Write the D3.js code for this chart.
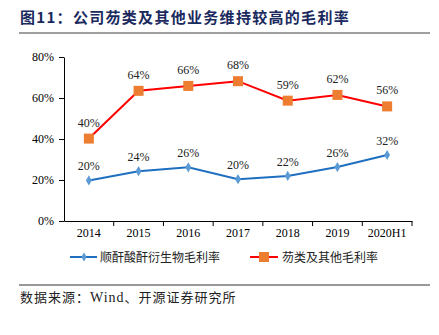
<!DOCTYPE html>
<html><head><meta charset="utf-8">
<script src="https://cdn.jsdelivr.net/npm/d3@7/dist/d3.min.js"></script>
<style>
body{margin:0;background:#fff;}
svg{display:block;}
</style></head>
<body><svg id="c" width="439" height="335"></svg>
<script>
const categories = ["2014","2015","2016","2017","2018","2019","2020H1"];
const seriesBlue = [19.8, 24.3, 26.2, 20.4, 22.0, 26.3, 32.2];
const seriesRed = [40.2, 63.5, 65.9, 68.2, 58.7, 61.5, 55.9];
const labelsBlue = ["20%","24%","26%","20%","22%","26%","32%"];
const labelsRed = ["40%","64%","66%","68%","59%","62%","56%"];
const yTicks = [0,20,40,60,80];
const nameBlue = "顺酐酸酐衍生物毛利率";
const nameRed = "芴类及其他毛利率";
const title = "图11：公司芴类及其他业务维持较高的毛利率";
const sourceParts = ["数据来源：", "Wind", "、开源证券研究所"];

const svg = d3.select("#c");
const serif = "'Liberation Serif','DejaVu Serif',serif";
const cjk = "'Noto Sans CJK SC','Noto Sans',sans-serif";

// title
svg.append("text").attr("x",20).attr("y",23).attr("font-family",cjk).attr("font-weight","bold")
  .attr("font-size",15).attr("letter-spacing",1.3).attr("fill","#1a2a5e").text(title);
svg.append("line").attr("x1",19).attr("x2",430).attr("y1",33).attr("y2",33)
  .attr("stroke","#7f7f7f").attr("stroke-width",1.5);

const x = d3.scaleBand().domain(categories).range([64,412]);
const y = d3.scaleLinear().domain([0,80]).range([221,57]);

// y axis
const ya = svg.append("g").attr("transform","translate(64,0)")
  .call(d3.axisLeft(y).tickValues(yTicks).tickFormat(d=>d+"%").tickSize(5).tickSizeOuter(0));
ya.select(".domain").attr("stroke","#000");
ya.selectAll(".tick line").attr("stroke","#000");
ya.selectAll("text").attr("font-family",serif).attr("font-size",12).attr("fill","#000").attr("dx",-2);

// x axis
const xa = svg.append("g").attr("transform","translate(0,221)")
  .call(d3.axisBottom(x).tickSize(0).tickSizeOuter(0));
xa.select(".domain").attr("stroke","#000");
xa.selectAll("text").attr("font-family",serif).attr("font-size",12).attr("fill","#000").attr("dy","1.1em");
const bounds = categories.map(c=>x(c)).concat([x.range()[1]]);
svg.append("g").selectAll("line").data(bounds.slice(1)).join("line")
  .attr("x1",d=>d).attr("x2",d=>d).attr("y1",221).attr("y2",226).attr("stroke","#000");

const cx = c => x(c) + x.bandwidth()/2;
const line = d3.line().x((d,i)=>cx(categories[i])).y(d=>y(d));

// blue series
svg.append("path").datum(seriesBlue).attr("d",line).attr("fill","none")
  .attr("stroke","#1f6fc0").attr("stroke-width",2);
svg.append("g").selectAll("path").data(seriesBlue).join("path")
  .attr("d",d3.symbol(d3.symbolDiamond,30)())
  .attr("transform",(d,i)=>`translate(${cx(categories[i])},${y(d)})`)
  .attr("fill","#5b9bd5");
svg.append("g").selectAll("text").data(seriesBlue).join("text")
  .attr("x",(d,i)=>cx(categories[i])).attr("y",d=>y(d)-10).attr("text-anchor","middle")
  .attr("font-family",serif).attr("font-size",12).attr("fill","#222").text((d,i)=>labelsBlue[i]);

// red series
svg.append("path").datum(seriesRed).attr("d",line).attr("fill","none")
  .attr("stroke","#ff0000").attr("stroke-width",2);
svg.append("g").selectAll("rect").data(seriesRed).join("rect")
  .attr("x",(d,i)=>cx(categories[i])-5).attr("y",d=>y(d)-5).attr("width",10).attr("height",10)
  .attr("fill","#ed7d31");
svg.append("g").selectAll("text").data(seriesRed).join("text")
  .attr("x",(d,i)=>cx(categories[i])).attr("y",d=>y(d)-12).attr("text-anchor","middle")
  .attr("font-family",serif).attr("font-size",12).attr("fill","#222").text((d,i)=>labelsRed[i]);

// legend
const ly = 257;
svg.append("line").attr("x1",70).attr("x2",97).attr("y1",ly).attr("y2",ly).attr("stroke","#1f6fc0").attr("stroke-width",2);
svg.append("path").attr("d",d3.symbol(d3.symbolDiamond,24)()).attr("transform",`translate(84,${ly})`).attr("fill","#5b9bd5");
svg.append("text").attr("x",100).attr("y",ly+4.5).attr("font-family",cjk).attr("font-size",12).attr("fill","#222").text(nameBlue);
svg.append("line").attr("x1",250).attr("x2",278).attr("y1",ly).attr("y2",ly).attr("stroke","#ff0000").attr("stroke-width",2);
svg.append("rect").attr("x",259).attr("y",ly-5).attr("width",10).attr("height",10).attr("fill","#ed7d31");
svg.append("text").attr("x",282).attr("y",ly+4.5).attr("font-family",cjk).attr("font-size",12).attr("fill","#222").text(nameRed);

// footer
svg.append("line").attr("x1",19).attr("x2",430).attr("y1",285).attr("y2",285)
  .attr("stroke","#333").attr("stroke-width",1);
const st = svg.append("text").attr("x",20).attr("y",302).attr("font-size",13).attr("letter-spacing",1).attr("fill","#222");
st.selectAll("tspan").data(sourceParts).join("tspan")
  .attr("font-family",(d,i)=>i===1?serif:cjk).attr("font-size",(d,i)=>i===1?14:13).text(d=>d);
</script></body></html>
